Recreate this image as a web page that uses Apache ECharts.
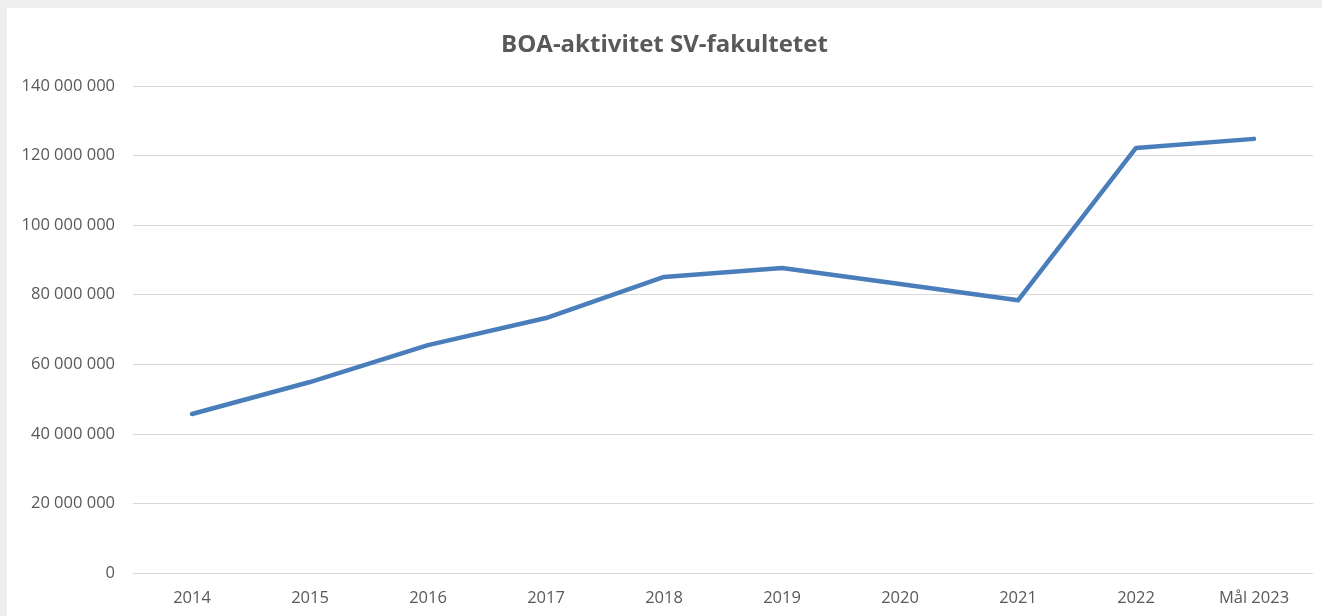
<!DOCTYPE html>
<html>
<head>
<meta charset="utf-8">
<script src="https://cdn.jsdelivr.net/npm/echarts@6/dist/echarts.min.js"></script>
<style>
html,body{margin:0;padding:0;background:#eeeeee;width:1322px;height:616px;overflow:hidden;}
#card{position:absolute;left:7px;top:8px;width:1315px;height:608px;background:#ffffff;}
</style>
</head>
<body>
<div id="card"></div>
<script>
const categories = ['2014','2015','2016','2017','2018','2019','2020','2021','2022','Mål 2023'];
const values = [45700000, 54900000, 65500000, 73300000, 85100000, 87700000, 83100000, 78400000, 122200000, 124800000];
const titleText = 'BOA-aktivitet SV-fakultetet';

function fmt(v){
  return String(Math.round(v)).replace(/\B(?=(\d{3})+(?!\d))/g, ' ');
}

const chart = echarts.init(document.getElementById('card'), null, {renderer:'canvas'});
chart.setOption({
  animation:false,
  title:{
    text:titleText, left:'center', top:20,
    textStyle:{fontFamily:'Open Sans', fontWeight:'bold', fontSize:24, color:'#595959'}
  },
  grid:{left:126, right:9, top:78, bottom:43, containLabel:false},
  xAxis:{
    type:'category', data:categories, boundaryGap:true,
    axisLine:{show:false}, axisTick:{show:false},
    axisLabel:{fontFamily:'Open Sans', fontSize:16.5, color:'#595959', margin:17}
  },
  yAxis:{
    type:'value', min:0, max:140000000, interval:20000000,
    axisLine:{show:false}, axisTick:{show:false},
    axisLabel:{fontFamily:'Open Sans', fontSize:16.5, color:'#595959', margin:18, formatter:fmt},
    splitLine:{lineStyle:{color:'#d9d9d9', width:1}}
  },
  series:[{
    type:'line', data:values, showSymbol:false, smooth:false,
    lineStyle:{color:'#4a7ebb', width:4.5, cap:'round', join:'round'},
    itemStyle:{color:'#4a7ebb'}
  }]
});
</script>
</body>
</html>
